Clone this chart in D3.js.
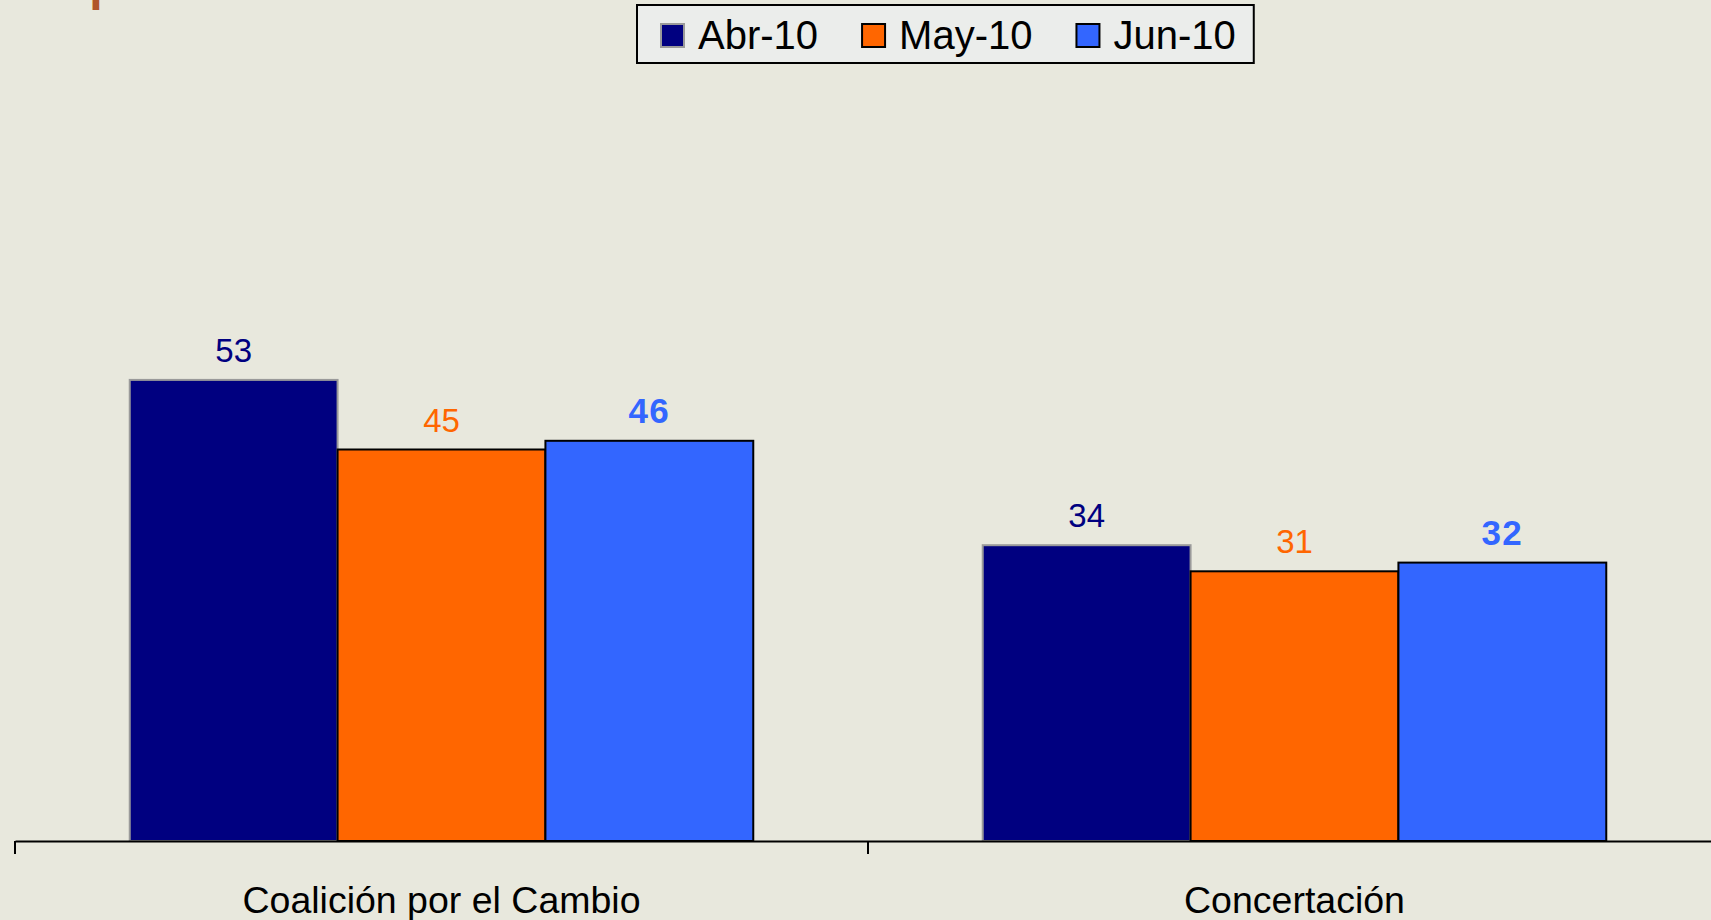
<!DOCTYPE html>
<html>
<head>
<meta charset="utf-8">
<script src="https://cdn.jsdelivr.net/npm/d3@7"></script>
<style>
  html, body { margin: 0; padding: 0; background: #E8E8DD; overflow: hidden; }
  svg { display: block; font-family: "Liberation Sans", Arial, sans-serif; }
</style>
</head>
<body>
<div id="chart"></div>
<script>
// Data
var categories = ["Coalición por el Cambio", "Concertación"];
var seriesNames = ["Abr-10", "May-10", "Jun-10"];
var abr10 = [53, 34];
var may10 = [45, 31];
var jun10 = [46, 32];
var seriesValues = [abr10, may10, jun10];

// colours / styles per series
var fillColors = ["#000080", "#FF6600", "#3366FF"];
var strokeColors = ["#9A9A9A", "#000000", "#000000"];
var labelColors = ["#000080", "#FF6600", "#3366FF"];
var labelWeights = ["normal", "normal", "bold"];

// SVG area
var svgWidth = 1711;
var svgHeight = 920;

var svg = d3.select("#chart")
    .append("svg")
    .attr("width", svgWidth)
    .attr("height", svgHeight);

svg.append("rect")
    .attr("width", svgWidth)
    .attr("height", svgHeight)
    .attr("fill", "#E8E8DD");

// title, cut off at the top of the picture
svg.append("text")
    .attr("x", 4)
    .attr("y", 0)
    .attr("fill", "#B0552A")
    .attr("font-size", 48)
    .attr("font-weight", "bold")
    .text("Grupo social");

// Scales
var baseY = 841;
var x0 = d3.scaleBand()
    .domain(categories)
    .range([15, 1721])
    .padding(0);

var x1 = d3.scaleBand()
    .domain(seriesNames)
    .range([0, x0.bandwidth()])
    .paddingInner(0)
    .paddingOuter(0.552);

var y = d3.scaleLinear()
    .domain([0, 60])
    .range([baseY, baseY - 60 * 8.7]);

// rows for drawing
var rows = [];
seriesNames.forEach(function(s, si) {
    categories.forEach(function(c, ci) {
        rows.push({ series: s, si: si, cat: c, value: seriesValues[si][ci] });
    });
});

// Bars
var chartGroup = svg.append("g");

chartGroup.selectAll("rect.bar")
    .data(rows)
    .enter()
    .append("rect")
    .attr("class", "bar")
    .attr("x", d => x0(d.cat) + x1(d.series))
    .attr("y", d => y(d.value))
    .attr("width", x1.bandwidth())
    .attr("height", d => baseY - y(d.value))
    .attr("fill", d => fillColors[d.si])
    .attr("stroke", d => strokeColors[d.si])
    .attr("stroke-width", 2);

// value labels
chartGroup.selectAll("text.val")
    .data(rows)
    .enter()
    .append("text")
    .attr("class", "val")
    .attr("x", d => x0(d.cat) + x1(d.series) + x1.bandwidth() / 2)
    .attr("y", d => y(d.value) - 18)
    .attr("text-anchor", "middle")
    .attr("font-size", d => d.si == 2 ? 35 : 33)
    .attr("letter-spacing", d => d.si == 2 ? 1.5 : 0)
    .attr("font-weight", d => labelWeights[d.si])
    .attr("fill", d => labelColors[d.si])
    .text(d => d.value);

// X axis
var xAxis = d3.axisBottom(x0).tickSize(0).tickPadding(0);

var axisG = svg.append("g")
    .attr("transform", `translate(0, ${baseY})`)
    .call(xAxis);

axisG.select(".domain")
    .attr("stroke", "#000")
    .attr("stroke-width", 2);

axisG.selectAll(".tick text")
    .attr("y", 72)
    .attr("dy", 0)
    .attr("font-family", "'Liberation Sans', Arial, sans-serif")
    .attr("font-size", 37.5)
    .attr("fill", "#000");

// tick marks between categories
var bounds = categories.map(c => x0(c));
axisG.selectAll("line.sep")
    .data(bounds)
    .enter()
    .append("line")
    .attr("class", "sep")
    .attr("x1", d => d)
    .attr("x2", d => d)
    .attr("y1", 0)
    .attr("y2", 13)
    .attr("stroke", "#000")
    .attr("stroke-width", 2);

// Legend
var legend = svg.append("g");
var legendBox = legend.append("rect")
    .attr("x", 637)
    .attr("y", 5)
    .attr("height", 58)
    .attr("fill", "#EBEDEB")
    .attr("stroke", "#000")
    .attr("stroke-width", 2);

var lx = 661;
seriesNames.forEach(function(s, i) {
    legend.append("rect")
        .attr("x", lx)
        .attr("y", 24)
        .attr("width", 23)
        .attr("height", 23)
        .attr("fill", fillColors[i])
        .attr("stroke", strokeColors[i])
        .attr("stroke-width", 2);
    var t = legend.append("text")
        .attr("x", lx + 37)
        .attr("y", 49)
        .attr("font-size", 40)
        .attr("fill", "#000")
        .text(s);
    lx = lx + 37 + t.node().getComputedTextLength() + 44;
});
legendBox.attr("width", lx - 44 + 18 - 637);
</script>
</body>
</html>
